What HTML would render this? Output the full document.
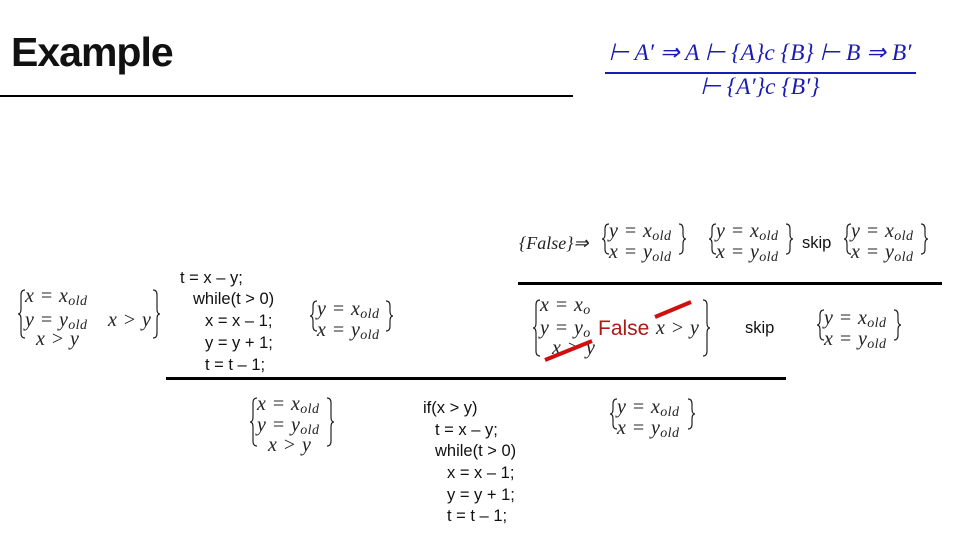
<!DOCTYPE html>
<html><head><meta charset="utf-8"><style>
html,body{margin:0;padding:0;background:#fff}
#c{position:relative;width:960px;height:540px;overflow:hidden;background:#fff}
.t{position:absolute;white-space:nowrap;line-height:1}
.m{font-family:"Liberation Serif",serif;font-style:italic;font-size:20px;letter-spacing:0.4px;color:#222}
.m sub{font-size:14px;vertical-align:-3px}
.k{font-family:"Liberation Sans",sans-serif;font-size:16.5px;color:#111}
.b{font-family:"Liberation Serif",serif;font-style:italic;font-size:23.5px;color:#1a1ab4}
.ln{position:absolute;background:#000}
</style></head><body><div id="c">
<div class="t" style="left:11px;top:32px;font-family:'Liberation Sans',sans-serif;font-weight:bold;font-size:41px;letter-spacing:-1px;color:#111">Example</div>
<div class="ln" style="left:0;top:95px;width:573px;height:2px"></div>

<div class="t b" style="left:605px;top:42px;width:310px;text-align:center">⊢ A′ ⇒ A ⊢ {A}c {B} ⊢ B ⇒ B′</div>
<div class="ln" style="left:605px;top:72px;width:311px;height:1.5px;background:#1a1ab4"></div>
<div class="t b" style="left:605px;top:76px;width:310px;text-align:center">⊢ {A′}c {B′}</div>

<!-- row 1 -->
<div class="t m" style="left:519px;top:234px;font-size:18px;letter-spacing:0">{False}⇒</div>
<div class="t m" style="left:609px;top:221px">y = x<sub>old</sub></div>
<div class="t m" style="left:609px;top:242px">x = y<sub>old</sub></div>
<div class="t m" style="left:716px;top:221px">y = x<sub>old</sub></div>
<div class="t m" style="left:716px;top:242px">x = y<sub>old</sub></div>
<div class="t k" style="left:802px;top:235px">skip</div>
<div class="t m" style="left:851px;top:221px">y = x<sub>old</sub></div>
<div class="t m" style="left:851px;top:242px">x = y<sub>old</sub></div>
<div class="ln" style="left:518px;top:282px;width:424px;height:2.5px"></div>

<!-- row 2 -->
<div class="t m" style="left:540px;top:295px">x = x<sub>o</sub></div>
<div class="t m" style="left:540px;top:318px">y = y<sub>o</sub></div>
<div class="t m" style="left:552px;top:338px">x &gt; y</div>
<div class="t" style="left:598px;top:318px;font-family:'Liberation Sans',sans-serif;font-size:21px;color:#b01818">False</div>
<div class="t m" style="left:656px;top:318px">x &gt; y</div>
<div class="t k" style="left:745px;top:320px">skip</div>
<div class="t m" style="left:824px;top:308px">y = x<sub>old</sub></div>
<div class="t m" style="left:824px;top:329px">x = y<sub>old</sub></div>
<div class="ln" style="left:166px;top:377px;width:620px;height:2.5px"></div>

<!-- left -->
<div class="t m" style="left:25px;top:286px">x = x<sub>old</sub></div>
<div class="t m" style="left:25px;top:310px">y = y<sub>old</sub></div>
<div class="t m" style="left:36px;top:329px">x &gt; y</div>
<div class="t m" style="left:108px;top:310px">x &gt; y</div>
<div class="t k" style="left:180px;top:270px">t = x – y;</div>
<div class="t k" style="left:193px;top:291px">while(t &gt; 0)</div>
<div class="t k" style="left:205px;top:313px">x = x – 1;</div>
<div class="t k" style="left:205px;top:335px">y = y + 1;</div>
<div class="t k" style="left:205px;top:357px">t = t – 1;</div>
<div class="t m" style="left:317px;top:299px">y = x<sub>old</sub></div>
<div class="t m" style="left:317px;top:320px">x = y<sub>old</sub></div>

<!-- bottom -->
<div class="t m" style="left:257px;top:394px">x = x<sub>old</sub></div>
<div class="t m" style="left:257px;top:415px">y = y<sub>old</sub></div>
<div class="t m" style="left:268px;top:435px">x &gt; y</div>
<div class="t k" style="left:423px;top:400px">if(x &gt; y)</div>
<div class="t k" style="left:435px;top:422px">t = x – y;</div>
<div class="t k" style="left:435px;top:443px">while(t &gt; 0)</div>
<div class="t k" style="left:447px;top:465px">x = x – 1;</div>
<div class="t k" style="left:447px;top:487px">y = y + 1;</div>
<div class="t k" style="left:447px;top:508px">t = t – 1;</div>
<div class="t m" style="left:617px;top:397px">y = x<sub>old</sub></div>
<div class="t m" style="left:617px;top:418px">x = y<sub>old</sub></div>

<svg width="960" height="540" style="position:absolute;left:0;top:0" fill="none" stroke="#222" stroke-width="1.2">
<path d="M609,224 q-4,0 -4,5 v5 q0,5 -3,5 q3,0 3,5 v5 q0,5 4,5"/>
<path d="M716,224 q-4,0 -4,5 v5 q0,5 -3,5 q3,0 3,5 v5 q0,5 4,5"/>
<path d="M851,224 q-4,0 -4,5 v5 q0,5 -3,5 q3,0 3,5 v5 q0,5 4,5"/>
<path d="M824,310 q-4,0 -4,5 v5 q0,5 -3,5 q3,0 3,5 v5 q0,5 4,5"/>
<path d="M317,301 q-4,0 -4,5 v5 q0,5 -3,5 q3,0 3,5 v5 q0,5 4,5"/>
<path d="M617,399 q-4,0 -4,5 v5 q0,5 -3,5 q3,0 3,5 v5 q0,5 4,5"/>
<path d="M25,290 q-4,0 -4,5 v14 q0,5 -3,5 q3,0 3,5 v14 q0,5 4,5"/>
<path d="M540,300 q-4,0 -4,5 v18 q0,5 -3,5 q3,0 3,5 v18 q0,5 4,5"/>
<path d="M257,398 q-4,0 -4,5 v14 q0,5 -3,5 q3,0 3,5 v14 q0,5 4,5"/>
<path d="M679,224 q4,0 4,5 v5 q0,5 3,5 q-3,0 -3,5 v5 q0,5 -4,5"/>
<path d="M786,224 q4,0 4,5 v5 q0,5 3,5 q-3,0 -3,5 v5 q0,5 -4,5"/>
<path d="M921,224 q4,0 4,5 v5 q0,5 3,5 q-3,0 -3,5 v5 q0,5 -4,5"/>
<path d="M894,310 q4,0 4,5 v5 q0,5 3,5 q-3,0 -3,5 v5 q0,5 -4,5"/>
<path d="M386,301 q4,0 4,5 v5 q0,5 3,5 q-3,0 -3,5 v5 q0,5 -4,5"/>
<path d="M688,399 q4,0 4,5 v5 q0,5 3,5 q-3,0 -3,5 v5 q0,5 -4,5"/>
<path d="M153,290 q4,0 4,5 v14 q0,5 3,5 q-3,0 -3,5 v14 q0,5 -4,5"/>
<path d="M703,300 q4,0 4,5 v18 q0,5 3,5 q-3,0 -3,5 v18 q0,5 -4,5"/>
<path d="M327,398 q4,0 4,5 v14 q0,5 3,5 q-3,0 -3,5 v14 q0,5 -4,5"/>
<line x1="545" y1="360" x2="592" y2="341" stroke="#d01010" stroke-width="4"/>
<line x1="655" y1="317" x2="691" y2="302" stroke="#d01010" stroke-width="4"/>
</svg>
</div></body></html>
